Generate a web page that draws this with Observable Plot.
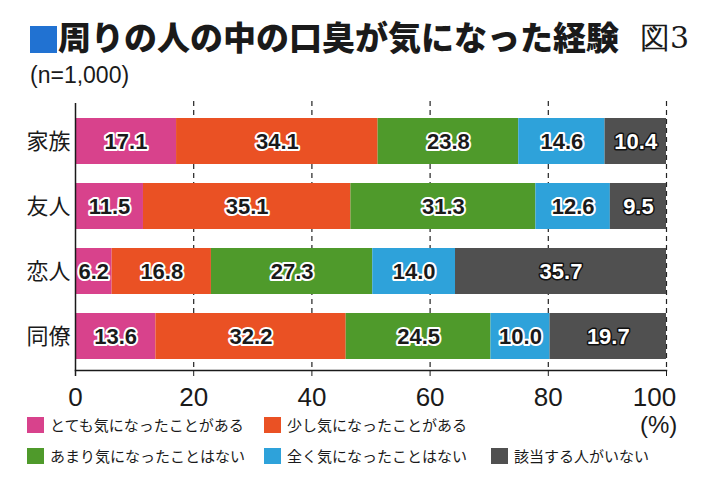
<!DOCTYPE html>
<html><head><meta charset="utf-8">
<script src="https://cdn.jsdelivr.net/npm/d3@7"></script>
<script src="https://cdn.jsdelivr.net/npm/@observablehq/plot@0.6"></script>
<style>
body{margin:0;background:#fff;}
#wrap{position:relative;width:710px;height:500px;overflow:hidden;font-family:"Noto Sans CJK JP",sans-serif;color:#1a1a1a;}
.abs{position:absolute;white-space:nowrap;}
#title{left:30px;top:12px;font-size:33px;font-weight:900;line-height:48px;letter-spacing:0px;}
#title .sq{display:inline-block;width:27px;height:27px;background:#2172d2;vertical-align:-3px;margin-right:1px;}
#fig{left:640px;top:20px;font-size:30px;font-family:"DejaVu Serif","Liberation Serif",serif;line-height:36px;}
#n{left:30px;top:61px;font-size:23px;font-family:"Liberation Sans","Noto Sans CJK JP",sans-serif;line-height:28px;}
#pct{left:640px;top:410px;font-size:24px;font-family:"Liberation Sans",sans-serif;line-height:30px;}
.leg{font-size:15px;line-height:20px;display:flex;align-items:center;}
.leg .sw{display:inline-block;width:17px;height:16px;margin-right:6px;}
#plot{left:0;top:92px;}
</style></head>
<body><div id="wrap">
<div id="title" class="abs"><span class="sq"></span>周りの人の中の口臭が気になった経験</div>
<div id="fig" class="abs">図3</div>
<div id="n" class="abs">(n=1,000)</div>
<div id="plot" class="abs"></div>
<div id="pct" class="abs">(%)</div>
<div id="legend"></div>
</div>
<script>
const categories = ["家族", "友人", "恋人", "同僚"];
const series = ["とても気になったことがある", "少し気になったことがある", "あまり気になったことはない", "全く気になったことはない", "該当する人がいない"];
const colors = ["#d8428c", "#ea5124", "#4f9a2b", "#2ea2da", "#505050"];
const values = {
  "家族": [17.1, 34.1, 23.8, 14.6, 10.4],
  "友人": [11.5, 35.1, 31.3, 12.6, 9.5],
  "恋人": [6.2, 16.8, 27.3, 14.0, 35.7],
  "同僚": [13.6, 32.2, 24.5, 10.0, 19.7]
};
const xTicks = [0, 20, 40, 60, 80, 100];
const gridTicks = [20, 40, 60, 80, 100];

const data = [];
for (const c of categories) values[c].forEach((v, i) => data.push({cat: c, series: series[i], value: v, idx: i}));

const numFont = "Liberation Sans, Arial, sans-serif";
const plot = Plot.plot({
  width: 710,
  height: 320,
  marginTop: 15,
  marginBottom: 42,
  marginLeft: 75,
  marginRight: 44,
  style: {fontFamily: "Noto Sans CJK JP, sans-serif", color: "#1a1a1a", background: "transparent"},
  x: {domain: [0, 100]},
  y: {domain: categories, paddingInner: 0.29, paddingOuter: 0.15, label: null},
  color: {domain: series, range: colors},
  marks: [
    Plot.ruleX(gridTicks, {stroke: "#222", strokeWidth: 1.2, strokeDasharray: "5,4", insetTop: -6}),
    Plot.barX(data, Plot.stackX({y: "cat", x: "value", fill: "series", z: "series"})),
    Plot.text(data, Plot.stackX({y: "cat", x: "value", z: "series", text: d => d.idx < 4 ? d.value.toFixed(1) : "",
      fill: "#1a1a1a", stroke: "white", strokeWidth: 4, fontSize: 22, fontWeight: "bold", fontFamily: numFont})),
    Plot.text(data, Plot.stackX({y: "cat", x: "value", z: "series", text: d => d.idx === 4 ? d.value.toFixed(1) : "",
      fill: "white", stroke: "#111", strokeWidth: 3, fontSize: 22, fontWeight: "bold", fontFamily: numFont})),
    Plot.ruleX([0], {stroke: "#1a1a1a", strokeWidth: 1.5, insetTop: -4, insetBottom: -6}),
    Plot.frame({anchor: "bottom", stroke: "#1a1a1a", strokeWidth: 1.5}),
    Plot.axisX(xTicks, {tickSize: 6, tickPadding: 11, fontSize: 26, fontFamily: numFont, label: null,
      tickFormat: d => d === 100 ? "" : String(d)}),
    Plot.axisX([100], {tickSize: 0, tickPadding: 17, dx: -12, fontSize: 26, fontFamily: numFont, label: null,
      tickFormat: d => String(d)}),
    Plot.axisY({tickSize: 0, tickPadding: 5, fontSize: 22, label: null})
  ]
});
document.getElementById("plot").appendChild(plot);

const legendPos = [[27, 415], [264, 415], [27, 446], [264, 446], [491, 446]];
const legend = document.getElementById("legend");
series.forEach((s, i) => {
  const el = document.createElement("div");
  el.className = "abs leg";
  el.style.left = legendPos[i][0] + "px";
  el.style.top = legendPos[i][1] + "px";
  el.innerHTML = `<span class="sw" style="background:${colors[i]}"></span>${s}`;
  legend.appendChild(el);
});
</script>
</body></html>
